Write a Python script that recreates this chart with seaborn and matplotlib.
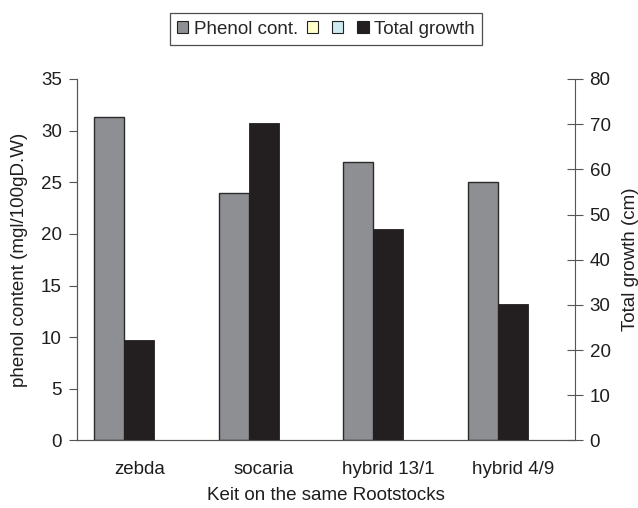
import seaborn as sns
import matplotlib.pyplot as plt
import pandas as pd
import numpy as np
from matplotlib.patches import Patch

# values
rootstocks = ["zebda", "socaria", "hybrid 13/1", "hybrid 4/9"]
phenol = [31.3, 24.0, 27.0, 25.0]
growth = [22.2, 70.3, 46.8, 30.2]

legend_labels = ["Phenol cont.", "", "", "Total growth"]
legend_colors = ["#8e8f93", "#ffffcc", "#cdebf1", "#231f20"]

BAR_W = 0.24
FS = 13.5
TXT = "#1e1e1e"

sns.set_theme(style="white")
plt.rcParams["font.family"] = ["Liberation Sans", "DejaVu Sans"]
plt.rcParams["font.size"] = FS

pos = np.arange(len(rootstocks))
df = pd.DataFrame({"pos": pos, "rootstock": rootstocks,
                   "phenol": phenol, "growth": growth})
df["pos_phenol"] = df["pos"] - BAR_W

fig = plt.figure(figsize=(6.38, 5.08), dpi=100)
ax = fig.add_axes([0.1207, 0.1329, 0.7806, 0.7116])
ax2 = ax.twinx()

sns.barplot(data=df, x="pos_phenol", y="phenol", native_scale=True, width=BAR_W,
            color=legend_colors[0], edgecolor="#2a2a2a", linewidth=1.0,
            saturation=1, ax=ax)
sns.barplot(data=df, x="pos", y="growth", native_scale=True, width=BAR_W,
            color=legend_colors[3], edgecolor="#231f20", linewidth=0.6,
            saturation=1, ax=ax2)

ax.set_ylim(0, 35)
ax2.set_ylim(0, 80)
ax.set_yticks(np.arange(0, 36, 5))
ax2.set_yticks(np.arange(0, 81, 10))
ax.set_xlim(-0.5, len(rootstocks) - 0.5)

# category boundary ticks, labels at centres
ax.set_xticks(np.arange(-0.5, len(rootstocks), 1.0))
ax.set_xticklabels([])
ax.set_xticks(pos, minor=True)
ax.set_xticklabels(rootstocks, minor=True)
ax.tick_params(axis="x", which="major", direction="out", length=6, width=0.8, color="#555555")
ax.tick_params(axis="x", which="minor", length=0, pad=15, labelsize=FS, labelcolor=TXT)
ax.tick_params(axis="y", direction="out", length=6, width=0.8, color="#555555",
               labelsize=FS, labelcolor=TXT, pad=5)
ax2.tick_params(axis="y", direction="inout", length=11, width=0.8, color="#555555",
                labelsize=FS, labelcolor=TXT, pad=5)

for a in (ax, ax2):
    a.spines["top"].set_visible(False)
    for s in ("left", "right", "bottom"):
        a.spines[s].set_color("#555555")
        a.spines[s].set_linewidth(0.8)
ax.spines["right"].set_visible(False)

ax.set_xlabel("Keit on the same Rootstocks", fontsize=FS, color=TXT, labelpad=6)
ax.set_ylabel("phenol content (mgl/100gD.W)", fontsize=FS, color=TXT, labelpad=9)
ax2.set_ylabel("Total growth (cm)", fontsize=FS, color=TXT, labelpad=8)

handles = [Patch(facecolor=c, edgecolor="#222222", linewidth=0.8) for c in legend_colors]
leg = fig.legend(handles, legend_labels, loc="upper center", bbox_to_anchor=(0.511, 0.974),
                 ncol=4, frameon=True, fancybox=False, fontsize=FS,
                 handlelength=0.6, handleheight=0.6, handletextpad=0.3,
                 columnspacing=0.45, borderpad=0.4, borderaxespad=0)
leg.get_frame().set_edgecolor("#222222")
leg.get_frame().set_linewidth(0.9)

plt.savefig("out.png", dpi=100)
